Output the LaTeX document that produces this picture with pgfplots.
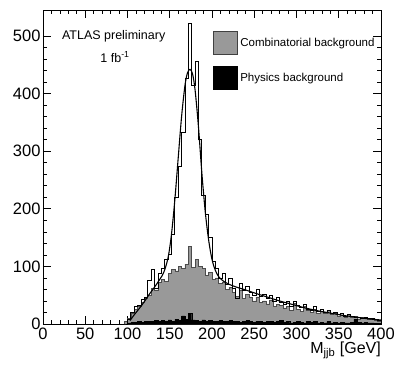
\documentclass[border=0pt]{standalone}
\usepackage{fontspec}
\setmainfont{Liberation Sans}
\usepackage{pgfplots}
\pgfplotsset{compat=1.18}
\begin{document}
\begin{tikzpicture}
\useasboundingbox (-43pt,-41pt) rectangle (356pt,324pt);
\begin{axis}[
  scale only axis, width=338pt, height=314pt,
  xmin=0, xmax=400, ymin=0, ymax=545,
  xtick={0,50,...,400}, ytick={0,100,...,500},
  minor x tick num=4, minor y tick num=4,
  tick align=inside, xtick pos=both, ytick pos=both,
  major tick length=8pt, minor tick length=4pt,
  axis line style={black, line width=0.8pt},
  tick style={black, line width=0.6pt},
  /pgf/number format/assume math mode=true,
  ticklabel style={font=\fontsize{16.5}{16.5}\selectfont},
  yticklabel style={xshift=1pt},
  xticklabel style={yshift=-0.5pt},
  xlabel={M\textsubscript{jjb} [GeV]},
  xlabel style={at={(rel axis cs:1,0)}, anchor=north east, yshift=-18pt, inner sep=0pt, font=\fontsize{16}{16}\selectfont},
  legend image code/.code={\draw[#1] (0pt,-11.5pt) rectangle (24pt,11.5pt);},
  legend style={draw=none, fill=none, at={(rel axis cs:0.503,0.933)}, anchor=north west,
    font=\fontsize{11.5}{13}\selectfont, row sep=11pt, inner sep=0pt, nodes={inner sep=2.5pt}},
  legend cell align=left,
  clip=false,
]
\addlegendimage{fill=black!40, draw=black!75, line width=0.6pt}
\addlegendentry{Combinatorial background}
\addlegendimage{fill=black, draw=black, line width=0.6pt}
\addlegendentry{Physics background}

% combinatorial background
\addplot[const plot, fill=black!40, draw=black!70, line width=0.6pt, forget plot] coordinates {
(96,4)(100,10)(104,18)(108,25)(112,30)(116,38)(120,44)(124,50)(128,62)(132,58)(136,72)(140,78)(144,74)(148,88)(152,95)(156,92)(160,100)(164,96)(168,104)(172,135)(176,98)(180,112)(184,100)(188,96)(192,85)(196,90)(200,78)(204,80)(208,70)(212,72)(216,60)(220,64)(224,55)(228,48)(232,58)(236,44)(240,52)(244,46)(248,40)(252,47)(256,38)(260,40)(264,35)(268,42)(272,30)(276,34)(280,32)(284,28)(288,30)(292,24)(296,36)(300,26)(304,22)(308,30)(312,24)(316,20)(320,26)(324,18)(328,22)(332,19)(336,24)(340,16)(344,18)(348,14)(352,15)(356,12)(360,16)(364,11)(368,13)(372,9)(376,12)(380,10)(384,8)(388,9)(392,6)(396,4)(400,4)
} \closedcycle;

% physics background
\addplot[const plot, fill=black, draw=black, line width=0.4pt, forget plot] coordinates {
(96,0)(100,2)(104,3)(108,3)(112,4)(116,3)(120,5)(124,4)(128,5)(132,6)(136,4)(140,6)(144,5)(148,7)(152,5)(156,8)(160,6)(164,14)(168,8)(172,19)(176,7)(180,6)(184,5)(188,7)(192,5)(196,6)(200,4)(204,5)(208,6)(212,4)(216,5)(220,6)(224,4)(228,5)(232,3)(236,5)(240,6)(244,4)(248,3)(252,5)(256,4)(260,3)(264,4)(268,5)(272,3)(276,4)(280,6)(284,3)(288,4)(292,2)(296,3)(300,5)(304,3)(308,2)(312,4)(316,3)(320,5)(324,2)(328,3)(332,2)(336,4)(340,2)(344,3)(348,2)(352,3)(356,2)(360,2)(364,3)(368,8)(372,3)(376,2)(380,3)(384,2)(388,2)(392,1)(396,1)(400,1)
} \closedcycle;

% total (open histogram)
\addplot[const plot, draw=black, line width=0.8pt, forget plot] coordinates {
(100,0)(100,8)(104,20)(108,30)(112,33)(116,42)(120,46)(124,76)(128,94)(132,62)(136,88)(140,96)(144,112)(148,120)(152,155)(156,219)(160,273)(164,333)(168,427)(172,521)(176,415)(180,456)(184,320)(188,224)(192,190)(196,150)(200,108)(204,96)(208,80)(212,88)(216,68)(220,80)(224,62)(228,45)(232,70)(236,58)(240,66)(244,55)(248,50)(252,60)(256,48)(260,52)(264,44)(268,50)(272,40)(276,46)(280,38)(284,34)(288,40)(292,30)(296,40)(300,32)(304,28)(308,34)(312,26)(316,24)(320,30)(324,22)(328,26)(332,20)(336,24)(340,18)(344,20)(348,16)(352,18)(356,14)(360,16)(364,13)(368,12)(372,12)(376,10)(380,11)(384,9)(388,10)(392,8)(396,6)(400,6)(400,0)
};

% fit
\addplot[smooth, draw=black, line width=1.1pt, forget plot] coordinates {
(103,6)(108,16)(114,27)(120,39)(126,52)(132,64)(138,77)(143,90)(148,115)(152,155)(156,215)(160,288)(164,360)(168,414)(171,436)(174,442)(177,434)(180,406)(184,342)(188,262)(192,195)(196,146)(200,112)(204,93)(208,82)(213,75)(220,69)(229,64)(240,59)(252,53)(265,47)(280,40)(295,34)(310,28)(325,23)(340,19)(355,15)(370,12)(385,9)(400,7)
};

\node[font=\fontsize{12.5}{14}\selectfont] at (rel axis cs:0.209,0.917) {ATLAS preliminary};
\node[font=\fontsize{12.5}{14}\selectfont] at (rel axis cs:0.213,0.850) {1 fb\textsuperscript{-1}};
\end{axis}
\end{tikzpicture}
\end{document}
